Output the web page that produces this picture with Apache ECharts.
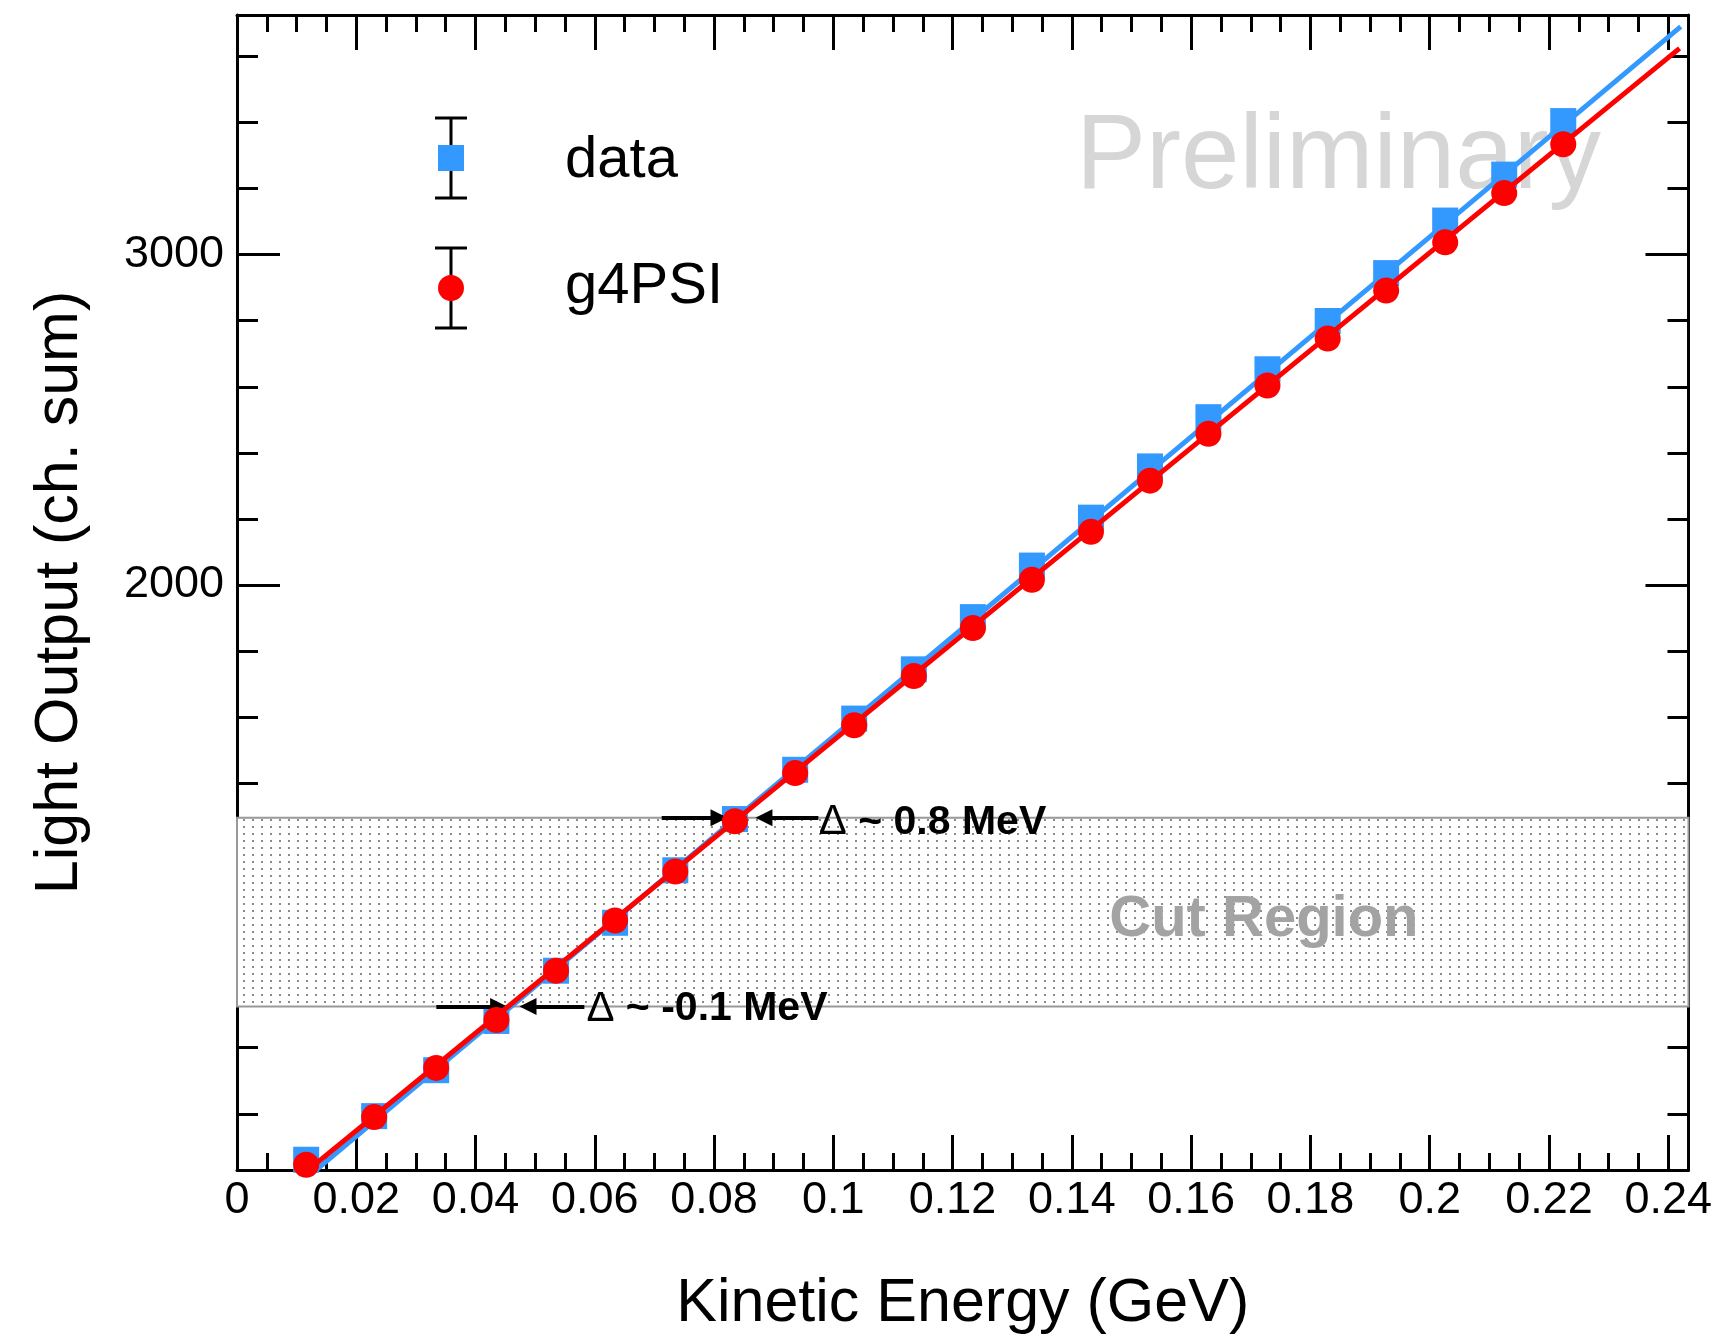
<!DOCTYPE html>
<html>
<head>
<meta charset="utf-8">
<script src="https://cdn.jsdelivr.net/npm/echarts@6/dist/echarts.min.js"></script>
<style>
html,body{margin:0;padding:0;background:#ffffff;}
#chart{width:1715px;height:1340px;}
</style>
</head>
<body>
<div id="chart"></div>
<script>
// ---------------- DATA ----------------
const energyGeV = [0.0116, 0.0230, 0.0334, 0.0435, 0.0535, 0.0634, 0.0735, 0.0835, 0.0936, 0.1035, 0.1135,
                   0.1234, 0.1333, 0.1432, 0.1531, 0.1629, 0.1728, 0.1829, 0.1927, 0.2026, 0.2125, 0.2224];
const lightData = [261, 393, 532, 681, 833, 978, 1137, 1292, 1441, 1596, 1745,
                   1903, 2059, 2204, 2359, 2508, 2653, 2799, 2944, 3103, 3242, 3404];
const lightG4PSI = [246, 390, 539, 684, 833, 985, 1133, 1285, 1431, 1576, 1725,
                    1870, 2016, 2161, 2316, 2458, 2604, 2746, 2891, 3037, 3186, 3334];
const fitDataX = [0.0116, 0.2421];
const fitDataY = [205, 3690];
const fitG4X = [0.0116, 0.2419];
const fitG4Y = [225, 3624];
const cutRegion = [725, 1296];
const xTickLabels = ['0','0.02','0.04','0.06','0.08','0.1','0.12','0.14','0.16','0.18','0.2','0.22','0.24'];
const yTickLabels = ['2000','3000'];
const seriesNames = ['data', 'g4PSI'];
const annotations = ['Δ ~ 0.8 MeV', 'Δ ~ -0.1 MeV', 'Cut Region', 'Preliminary'];

// ---------------- LAYOUT / STYLE ----------------
const X_MIN = 0, X_MAX = 0.2434, Y_MIN = 230, Y_MAX = 3725;
const FONT = 'Liberation Sans, Arial, Helvetica, sans-serif';
const BLUE = '#3399ff', RED = '#ff0000';

const zip = (a, b) => a.map((v, i) => [v, b[i]]);

// dotted pattern for cut region
const pat = document.createElement('canvas');
pat.width = 9; pat.height = 7;
const pctx = pat.getContext('2d');
pctx.fillStyle = '#ffffff'; pctx.fillRect(0, 0, 9, 7);
pctx.fillStyle = '#8a8a8a'; pctx.fillRect(0, 0, 2, 2);

function xFmt(v) {
  const k = Math.round(v / 0.02);
  if (Math.abs(v - k * 0.02) > 1e-7) return '';
  return xTickLabels[k] !== undefined ? xTickLabels[k] : '';
}
function yFmt(v) {
  const r = Math.round(v);
  if (Math.abs(v - r) > 1e-6) return '';
  return yTickLabels.indexOf(String(r)) >= 0 ? String(r) : '';
}

function xAx(position, split, tickLen, showLine, showLabel, extra) {
  return Object.assign({
    type: 'value', position: position, min: X_MIN, max: X_MAX, splitNumber: split,
    axisLine: { show: showLine, onZero: false, lineStyle: { color: '#000', width: 3 } },
    axisTick: { show: true, inside: true, length: tickLen, lineStyle: { color: '#000', width: 3 } },
    axisLabel: { show: showLabel, formatter: xFmt, color: '#000', fontSize: 45, fontFamily: FONT, margin: 8 },
    splitLine: { show: false }, minorTick: { show: false }
  }, extra || {});
}
function yAx(position, split, tickLen, showLine, showLabel, extra) {
  return Object.assign({
    type: 'value', position: position, min: Y_MIN, max: Y_MAX, splitNumber: split,
    axisLine: { show: showLine, onZero: false, lineStyle: { color: '#000', width: 3 } },
    axisTick: { show: true, inside: true, length: tickLen, lineStyle: { color: '#000', width: 3 } },
    axisLabel: { show: showLabel, formatter: yFmt, color: '#000', fontSize: 45, fontFamily: FONT, margin: 13 },
    splitLine: { show: false }, minorTick: { show: false }
  }, extra || {});
}

const chart = echarts.init(document.getElementById('chart'));

const legendGraphic = [];
[[seriesNames[0], 158, 'rect', BLUE, 161], [seriesNames[1], 288, 'circle', RED, 287]].forEach(function (e) {
  const cx = 451, cy = e[1];
  legendGraphic.push({ type: 'line', shape: { x1: cx, y1: cy - 40, x2: cx, y2: cy + 40 }, style: { stroke: '#000', lineWidth: 3 } });
  legendGraphic.push({ type: 'line', shape: { x1: cx - 16, y1: cy - 40, x2: cx + 16, y2: cy - 40 }, style: { stroke: '#000', lineWidth: 3 } });
  legendGraphic.push({ type: 'line', shape: { x1: cx - 16, y1: cy + 40, x2: cx + 16, y2: cy + 40 }, style: { stroke: '#000', lineWidth: 3 } });
  if (e[2] === 'rect') {
    legendGraphic.push({ type: 'rect', shape: { x: cx - 13, y: cy - 13, width: 26, height: 26 }, style: { fill: e[3] } });
  } else {
    legendGraphic.push({ type: 'circle', shape: { cx: cx, cy: cy, r: 13 }, style: { fill: e[3] } });
  }
  legendGraphic.push({ type: 'text', x: 565, y: e[4], style: { text: e[0], fill: '#000', font: '58px ' + FONT, verticalAlign: 'middle', align: 'left' } });
});

const option = {
  animation: false,
  backgroundColor: '#ffffff',
  grid: { left: 237, right: 23, top: 15, bottom: 168, containLabel: false },
  xAxis: [
    xAx('bottom', 12, 35, true, true, {
      name: 'Kinetic Energy (GeV)', nameLocation: 'middle', nameGap: 104,
      nameTextStyle: { fontSize: 61, fontFamily: FONT, color: '#000' }
    }),
    xAx('bottom', 48, 17, false, false),
    xAx('top', 12, 35, true, false),
    xAx('top', 48, 17, false, false)
  ],
  yAxis: [
    yAx('left', 4, 43, true, true, {
      name: 'Light Output (ch. sum)', nameLocation: 'middle', nameGap: 146,
      nameTextStyle: { fontSize: 61, fontFamily: FONT, color: '#000' }
    }),
    yAx('left', 17, 21, false, false),
    yAx('right', 4, 43, true, false),
    yAx('right', 17, 21, false, false)
  ],
  graphic: [
    { type: 'text', x: 1076, y: 159, z: 1, style: { text: annotations[3], fill: '#d6d6d6', font: '105px ' + FONT, verticalAlign: 'middle', align: 'left' } }
  ].concat(legendGraphic),
  series: [
    {
      name: 'cut', type: 'line', data: [], z: 1, silent: true,
      markArea: {
        silent: true,
        itemStyle: { color: { image: pat, repeat: 'repeat' }, borderColor: '#999999', borderWidth: 2 },
        label: { show: false },
        data: [[{ yAxis: cutRegion[0] }, { yAxis: cutRegion[1] }]]
      }
    },
    {
      name: seriesNames[0], type: 'scatter', data: zip(energyGeV, lightData), z: 3,
      symbol: 'rect', symbolSize: 26, itemStyle: { color: BLUE, opacity: 1 }
    },
    {
      name: 'fit data', type: 'line', data: zip(fitDataX, fitDataY), z: 4, showSymbol: false, symbol: 'none',
      lineStyle: { color: BLUE, width: 5 }, clip: true
    },
    {
      name: seriesNames[1], type: 'scatter', data: zip(energyGeV, lightG4PSI), z: 5,
      symbol: 'circle', symbolSize: 26, itemStyle: { color: RED, opacity: 1 }
    },
    {
      name: 'fit g4PSI', type: 'line', data: zip(fitG4X, fitG4Y), z: 6, showSymbol: false, symbol: 'none',
      lineStyle: { color: RED, width: 5 }, clip: true
    },
    {
      name: 'annot', type: 'line', data: [], z: 8, silent: true,
      markLine: {
        silent: true, symbol: ['none', 'triangle'], symbolSize: 17,
        lineStyle: { color: '#000', width: 4, type: 'solid', opacity: 1 },
        itemStyle: { color: '#000' },
        label: { show: false },
        emphasis: { disabled: true },
        data: [
          [{ coord: [0.07122, cutRegion[1]] }, { coord: [0.08083, cutRegion[1]] }],
          [{ coord: [0.09749, cutRegion[1]] }, { coord: [0.08836, cutRegion[1]] }],
          [{ coord: [0.03343, cutRegion[0]] }, { coord: [0.04387, cutRegion[0]] }],
          [{ coord: [0.05825, cutRegion[0]] }, { coord: [0.04880, cutRegion[0]] }]
        ]
      },
      markPoint: {
        silent: true, symbol: 'circle', symbolSize: 0,
        data: [
          { name: annotations[0], coord: [0.09756, 1282],
            label: { show: true, position: 'right', distance: 0, formatter: '{d|Δ}{t| ~ 0.8 MeV}',
                     rich: { d: { fontSize: 42, fontFamily: FONT, fontWeight: 'normal', color: '#000' },
                             t: { fontSize: 41, fontFamily: FONT, fontWeight: 'bold', color: '#000' } } } },
          { name: annotations[1], coord: [0.05859, 717],
            label: { show: true, position: 'right', distance: 0, formatter: '{d|Δ}{t| ~ -0.1 MeV}',
                     rich: { d: { fontSize: 42, fontFamily: FONT, fontWeight: 'normal', color: '#000' },
                             t: { fontSize: 41, fontFamily: FONT, fontWeight: 'bold', color: '#000' } } } },
          { name: annotations[2], coord: [0.1722, 988],
            label: { show: true, position: 'inside', formatter: '{b}', fontSize: 58, fontWeight: 'bold',
                     fontFamily: FONT, color: '#a3a3a3' } }
        ]
      }
    }
  ]
};
chart.setOption(option);
</script>
</body>
</html>
